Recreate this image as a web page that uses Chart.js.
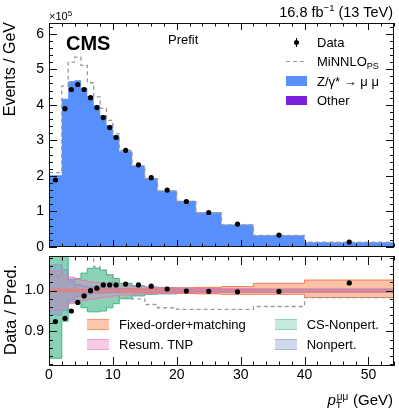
<!DOCTYPE html>
<html><head><meta charset="utf-8">
<script src="https://cdn.jsdelivr.net/npm/chart.js@4.4.1/dist/chart.umd.min.js"></script>
<style>
html,body{margin:0;padding:0;background:#fff}
#wrap{position:relative;width:399px;height:408px;overflow:hidden;font-family:"Liberation Sans",Arial,sans-serif;color:#000}
#wrap canvas{position:absolute;left:0;top:0}
.t{position:absolute;white-space:nowrap;line-height:1}
.rot{transform-origin:0 0;transform:rotate(-90deg)}
.sw{position:absolute;box-sizing:border-box}
.up{position:relative}
</style></head><body>
<div id="wrap">
<canvas id="cTop" width="399" height="408"></canvas>
<canvas id="cRatio" width="399" height="408"></canvas>

<!-- top panel texts -->
<div class="t" style="right:6px;top:4.5px;font-size:14.5px">16.8 fb<span class="up" style="font-size:9.5px;top:-6px">−1</span> (13 TeV)</div>
<div class="t" style="left:49px;top:11px;font-size:11px">×10<span class="up" style="font-size:8px;top:-4px">5</span></div>
<div class="t" style="left:66px;top:33px;font-size:20px;font-weight:bold">CMS</div>
<div class="t" style="left:168px;top:32.5px;font-size:13px">Prefit</div>
<div class="t rot" style="left:1.5px;top:222px;width:200px;text-align:right;font-size:16px">Events / GeV</div>

<!-- top legend -->
<div style="position:absolute;left:295.5px;top:38px;width:1px;height:9px;background:#000"></div>
<div style="position:absolute;left:293.5px;top:40px;width:5px;height:5px;border-radius:50%;background:#000"></div>
<div class="t" style="left:317px;top:36px;font-size:13px">Data</div>
<div style="position:absolute;left:286px;top:60.5px;width:21px;height:1.3px;background:repeating-linear-gradient(90deg,#999 0 4px,transparent 4px 7px)"></div>
<div class="t" style="left:317px;top:54.6px;font-size:13px">MiNNLO<span class="up" style="font-size:9px;top:3px">PS</span></div>
<div class="sw" style="left:286px;top:76px;width:21px;height:9.5px;background:#5790fc"></div>
<div class="t" style="left:317px;top:74.6px;font-size:13px">Z/γ* → μ μ</div>
<div class="sw" style="left:286px;top:95.5px;width:21px;height:9px;background:#7a21dd"></div>
<div class="t" style="left:317px;top:93.6px;font-size:13px">Other</div>

<!-- ratio panel texts -->
<div class="t rot" style="left:2.3px;top:410px;width:200px;text-align:center;font-size:17px">Data / Pred.</div>
<div class="sw" style="left:86.5px;top:318.5px;width:22px;height:11.5px;background:#fcc6ab;border-top:1.5px solid #f69a6f;border-bottom:1.5px solid #f69a6f"></div>
<div class="t" style="left:119px;top:318px;font-size:13px">Fixed-order+matching</div>
<div class="sw" style="left:86.5px;top:339px;width:22px;height:11px;background:#f7cbe5;border-top:1.5px solid #ee9fd0;border-bottom:1.5px solid #ee9fd0"></div>
<div class="t" style="left:119px;top:338.3px;font-size:13px">Resum. TNP</div>
<div class="sw" style="left:275px;top:318.5px;width:22px;height:11.5px;background:#c4eadb;border-top:1.5px solid #8dd6b8;border-bottom:1.5px solid #8dd6b8"></div>
<div class="t" style="left:306.7px;top:318px;font-size:13px">CS-Nonpert.</div>
<div class="sw" style="left:275px;top:339px;width:22px;height:11px;background:#d2d8eb;border-top:1.5px solid #aab6dc;border-bottom:1.5px solid #aab6dc"></div>
<div class="t" style="left:306.7px;top:338.3px;font-size:13px">Nonpert.</div>

<div class="t" style="right:6px;top:392.3px;font-size:15px"><i>p</i><span style="display:inline-block;position:relative;width:13px;height:10px"><span style="position:absolute;left:1px;top:-3px;font-size:10px">μμ</span><span style="position:absolute;left:0;top:7px;font-size:10px">T</span></span> (GeV)</div>
</div>

<script>
// ─── DATA ───────────────────────────────────────────────────────────
const binEdges=[0,2,3,4,5,6,7,8,9,10,11,13,15,17,20,23,27,32,40,54];

// top panel, units of 1e5 events / GeV
const dataVals  =[1.885,3.89,4.43,4.57,4.43,4.20,3.92,3.64,3.36,3.08,2.72,2.31,1.95,1.60,1.28,0.97,0.644,0.336,0.14];
const zVals     =[2.02,4.17,4.66,4.69,4.48,4.25,3.99,3.71,3.43,3.15,2.69,2.29,1.94,1.59,1.30,0.975,0.635,0.33,0.135];
const otherVals =[0.015,0.03,0.03,0.03,0.03,0.03,0.03,0.025,0.025,0.025,0.02,0.02,0.018,0.015,0.012,0.01,0.008,0.005,0.003];
const minnloVals=[2.09,4.53,5.20,5.34,5.11,4.62,4.22,3.90,3.56,3.18,2.72,2.28,1.92,1.57,1.27,0.95,0.62,0.325,0.135];

// ratio panel
const ratioData  =[0.924,0.932,0.950,0.971,0.987,1.000,1.006,1.014,1.014,1.014,1.016,1.014,1.011,1.004,0.999,0.998,0.997,0.998,1.019];
const minnloRatio=[1.035,1.20,1.20,1.20,1.20,1.12,1.058,1.050,1.039,1.012,0.982,0.980,0.966,0.958,0.954,0.954,0.954,0.961,0.983];
const foUp  =[1.003,1.003,1.003,1.003,1.003,1.003,1.003,1.003,1.003,1.003,1.004,1.004,1.005,1.006,1.007,1.008,1.010,1.018,1.026];
const foLow =[0.997,0.997,0.997,0.997,0.997,0.997,0.997,0.997,0.997,0.997,0.996,0.996,0.995,0.994,0.993,0.992,0.991,0.991,0.983];
const tnpUp =[1.048,1.038,1.033,1.028,1.025,1.022,1.020,1.018,1.016,1.014,1.012,1.010,1.008,1.007,1.006,1.005,1.004,1.003,1.003];
const tnpLow=[0.952,0.962,0.968,0.973,0.976,0.979,0.981,0.983,0.985,0.987,0.989,0.991,0.993,0.994,0.995,0.996,0.997,0.997,0.997];
const csUp  =[1.17,1.12,1.028,1.030,1.043,1.055,1.055,1.050,1.039,1.030,1.018,1.012,1.009,1.008,1.006,1.005,1.004,1.004,1.004];
const csLow =[0.834,0.925,0.972,0.970,0.958,0.948,0.948,0.950,0.958,0.968,0.980,0.987,0.991,0.992,0.994,0.995,0.996,0.996,0.996];
const npUp  =[1.063,1.051,1.024,1.015,1.011,1.009,1.008,1.007,1.006,1.006,1.005,1.004,1.004,1.003,1.003,1.003,1.003,1.003,1.003];
const npLow =[0.940,0.952,0.978,0.986,0.990,0.992,0.993,0.994,0.995,0.995,0.996,0.996,0.996,0.997,0.997,0.997,0.997,0.997,0.997];

const xTicks=[0,10,20,30,40,50];
const yTopTicks=[0,1,2,3,4,5,6];
const yRatioTicks=[0.9,1.0];

// ─── HELPERS ────────────────────────────────────────────────────────
const FONT='"Liberation Sans", Arial, sans-serif';
Chart.defaults.font.family=FONT;
Chart.defaults.color='#000';

function steps(vals){
  const p=vals.map((v,i)=>({x:binEdges[i],y:v}));
  p.push({x:binEdges[vals.length],y:vals[vals.length-1]});
  return p;
}
function centers(vals){
  return vals.map((v,i)=>({x:(binEdges[i]+binEdges[i+1])/2,y:v}));
}
function band(up,low,line,fill,ord){
  return [
    {data:steps(low),stepped:true,borderColor:line,borderWidth:1,pointRadius:0,fill:false,order:ord,clip:0},
    {data:steps(up),stepped:true,borderColor:line,borderWidth:1,pointRadius:0,fill:'-1',backgroundColor:fill,order:ord+1,clip:0}
  ];
}

// frame + inward ticks on all four sides (ROOT style)
const framePlugin={
  id:'frame',
  afterDatasetsDraw(chart,args,o){
    const ctx=chart.ctx,a=chart.chartArea,xs=chart.scales.x,ys=chart.scales.y;
    ctx.save();
    ctx.strokeStyle='#111';ctx.lineWidth=1;
    ctx.beginPath();
    const nx=Math.round((xs.max-xs.min)/o.xMinor);
    for(let i=0;i<=nx;i++){
      const v=xs.min+i*o.xMinor;
      const big=Math.abs(v/o.xMajor-Math.round(v/o.xMajor))<1e-6;
      const L=big?o.xLen:o.xLen/2;
      const px=Math.round(xs.getPixelForValue(v))+0.5;
      ctx.moveTo(px,a.bottom);ctx.lineTo(px,a.bottom-L);
      ctx.moveTo(px,a.top);ctx.lineTo(px,a.top+L);
    }
    const k0=Math.ceil(ys.min/o.yMinor-1e-6),k1=Math.floor(ys.max/o.yMinor+1e-6);
    for(let k=k0;k<=k1;k++){
      const v=k*o.yMinor;
      const big=Math.abs(v/o.yMajor-Math.round(v/o.yMajor))<1e-6;
      const L=big?o.yLen:o.yLen/2;
      const py=Math.round(ys.getPixelForValue(v))+0.5;
      ctx.moveTo(a.left,py);ctx.lineTo(a.left+L,py);
      ctx.moveTo(a.right,py);ctx.lineTo(a.right-L,py);
    }
    ctx.stroke();
    ctx.strokeRect(a.left+0.5,a.top+0.5,a.right-a.left-1,a.bottom-a.top-1);
    ctx.restore();
  }
};

// ─── TOP PANEL ──────────────────────────────────────────────────────
new Chart(document.getElementById('cTop'),{
  type:'line',
  plugins:[framePlugin],
  data:{datasets:[
    {label:'Data',data:centers(dataVals),showLine:false,pointRadius:2.6,pointBackgroundColor:'#000',pointBorderWidth:0,order:0},
    {label:'MiNNLO',data:steps(minnloVals),stepped:true,borderColor:'#9a9a9a',borderDash:[4,3],borderWidth:1.3,pointRadius:0,fill:false,order:1,clip:0},
    {label:'Other',data:steps(otherVals),stepped:true,borderColor:'transparent',borderWidth:1,backgroundColor:'#7a21dd',fill:'origin',pointRadius:0,order:2,clip:0},
    {label:'Z',data:steps(zVals),stepped:true,borderColor:'transparent',borderWidth:1,backgroundColor:'#5790fc',fill:'origin',pointRadius:0,order:3,clip:0}
  ]},
  options:{
    responsive:false,animation:false,events:[],
    layout:{autoPadding:false,padding:{left:0,right:5,top:23,bottom:161}},
    plugins:{legend:{display:false},tooltip:{enabled:false},
      frame:{xMinor:2,xMajor:10,xLen:7,yMinor:0.2,yMajor:1,yLen:8}},
    scales:{
      x:{type:'linear',min:0,max:54,display:false},
      y:{min:0,max:6.3,
        grid:{display:false,drawTicks:false},border:{display:false},
        afterBuildTicks:s=>{s.ticks=yTopTicks.map(v=>({value:v}));},
        afterFit:s=>{s.width=49;},
        ticks:{padding:5,color:'#000',font:{size:14}}}
    }
  }
});

// ─── RATIO PANEL ────────────────────────────────────────────────────
new Chart(document.getElementById('cRatio'),{
  type:'line',
  plugins:[framePlugin],
  data:{datasets:[
    {label:'Data',data:centers(ratioData),showLine:false,pointRadius:2.6,pointBackgroundColor:'#000',pointBorderWidth:0,order:0},
    {label:'MiNNLO',data:steps(minnloRatio),stepped:true,borderColor:'#9a9a9a',borderDash:[4,3],borderWidth:1.3,pointRadius:0,fill:false,order:1,clip:0},
    ...band(tnpUp,tnpLow,'#e879c0','rgba(235,110,190,0.3)',2),
    ...band(foUp,foLow,'#f57d50','rgba(250,130,80,0.5)',4),
    ...band(npUp,npLow,'#8296d2','rgba(120,140,200,0.35)',6),
    ...band(csUp,csLow,'#3cb987','rgba(60,180,130,0.6)',8)
  ]},
  options:{
    responsive:false,animation:false,events:[],
    layout:{autoPadding:false,padding:{left:0,right:5,top:256,bottom:0}},
    plugins:{legend:{display:false},tooltip:{enabled:false},
      frame:{xMinor:2,xMajor:10,xLen:9,yMinor:0.02,yMajor:0.1,yLen:8}},
    scales:{
      x:{type:'linear',min:0,max:54,
        grid:{display:false,drawTicks:false},border:{display:false},
        afterBuildTicks:s=>{s.ticks=xTicks.map(v=>({value:v}));},
        afterFit:s=>{s.height=42;},
        ticks:{padding:1,color:'#000',maxRotation:0,font:{size:14}}},
      y:{min:0.815,max:1.085,
        grid:{display:false,drawTicks:false},border:{display:false},
        afterBuildTicks:s=>{s.ticks=yRatioTicks.map(v=>({value:v}));},
        afterFit:s=>{s.width=49;},
        ticks:{padding:5,color:'#000',font:{size:14},callback:v=>v.toFixed(1)}}
    }
  }
});
</script>
</body></html>
